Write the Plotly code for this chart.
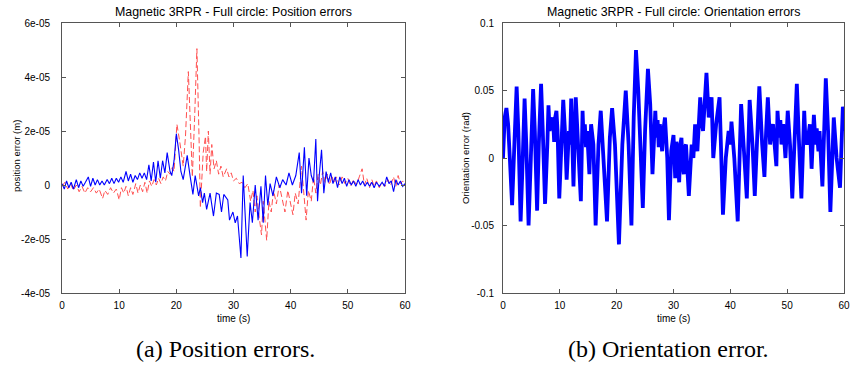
import numpy as np
import plotly.graph_objects as go

# ---------------- data (position errors in units of 1e-5 m) ----------------
blue_t = [0, 0.4, 0.8, 1.2, 1.6, 2.0, 2.5, 2.9, 3.3, 3.7, 4.1, 4.6, 5.0, 5.4, 5.8, 6.2, 6.6, 7.0, 7.4, 7.9,
          8.3, 8.7, 9.1, 9.5, 9.9, 10.3, 10.7, 11.2, 11.6, 12.0, 12.4, 12.8, 13.2, 13.6, 14.0, 14.4, 14.8,
          15.2, 15.6, 16.0, 16.4, 16.8, 17.2, 17.6, 18.0, 18.4, 18.9, 19.2, 19.6, 20.0, 20.4, 20.8, 21.2,
          21.9, 22.4, 22.9, 23.3, 23.9, 24.2, 24.6, 24.9, 25.3, 25.9, 26.5, 27.0, 27.5, 27.9, 28.3, 29.0,
          29.3, 29.9, 30.3, 30.7, 31.3, 31.7, 32.1, 32.4, 32.9, 33.3, 33.8, 34.3, 34.8, 35.2, 35.6, 36.0,
          36.4, 36.9, 37.5, 38.1, 38.6, 39.2, 39.7, 40.3, 40.9, 41.5, 41.9, 42.4, 42.8, 43.2, 43.6, 44.0,
          44.4, 44.7, 45.0, 45.4, 45.8, 46.2, 46.6, 47.0, 47.4, 47.8, 48.2, 48.6, 49.0, 49.4, 49.8, 50.2,
          50.6, 51.0, 51.4, 51.8, 52.2, 52.6, 53.0, 53.4, 53.8, 54.2, 54.6, 55.0, 55.5, 56.0, 56.4, 56.8,
          57.2, 57.6, 58.0, 58.4, 58.8, 59.2, 59.6, 60.0]
blue_v = [0.05, -0.15, 0.15, -0.1, 0.1, -0.15, 0.2, -0.1, 0.15, -0.05, 0.1, 0.3, -0.05, 0.25, 0.0, 0.2, 0.0,
          0.15, 0.0, 0.2, 0.05, 0.25, 0.05, 0.25, 0.1, 0.3, 0.1, 0.5, 0.15, 0.4, 0.1, 0.35, 0.2, 0.45, 0.25,
          0.45, 0.2, 0.75, 0.15, 0.85, 0.1, 0.9, 0.25, 0.9, 0.45, 1.2, 0.5, 0.35, 0.9, 1.9, 1.3, 0.5, 0.2,
          1.1, 0.35, -0.35, 0.35, -0.4, -0.1, -0.65, -0.3, -0.9, -0.3, -1.15, -0.3, -0.35, -1.0, -0.35,
          -0.55, -1.3, -1.0, -1.4, -1.15, -2.7, 0.35, -1.6, -2.65, -0.65, -1.4, 0.0, -1.3, -0.05, -1.4,
          0.35, -0.75, 0.05, -0.4, 0.3, -0.1, 0.2, 0.0, 0.45, 0.0, 0.35, 1.2, -0.3, 1.4, -0.4, 1.0, 0.35,
          0.1, 1.7, -0.6, 0.35, 1.3, -0.3, 0.5, 0.1, 0.45, 0.05, 0.3, -0.1, 0.3, 0.05, 0.25, -0.05, 0.2,
          0.0, 0.15, -0.05, 0.2, 0.0, 0.15, -0.05, 0.1, -0.05, 0.1, -0.1, 0.1, -0.05, 0.1, -0.05, 0.3,
          0.05, 0.15, -0.25, 0.2, 0.0, 0.15, -0.05, 0.05]

red_t = [0, 0.5, 1.0, 1.5, 2.0, 2.5, 3.0, 3.5, 4.0, 4.5, 5.0, 5.5, 6.0, 6.5, 7.1, 7.5, 8.0, 8.5, 9.0, 9.5,
         10.0, 10.4, 10.8, 11.2, 11.6, 12.0, 12.4, 12.9, 13.3, 13.7, 14.1, 14.5, 14.9, 15.3, 15.7, 16.1,
         16.5, 16.9, 17.3, 17.7, 18.1, 18.5, 18.9, 19.3, 19.6, 20.1, 20.6, 21.2, 21.6, 22.1, 22.5, 22.8,
         23.2, 23.6, 24.0, 24.2, 24.7, 25.1, 25.3, 25.6, 25.9, 26.2, 26.6, 27.0, 27.4, 27.8, 28.2, 28.8,
         29.2, 29.6, 30.0, 30.5, 31.0, 31.5, 32.0, 32.5, 33.0, 33.4, 33.8, 34.1, 34.5, 34.9, 35.2, 35.8,
         36.2, 36.6, 37.0, 37.5, 38.0, 38.5, 39.0, 39.5, 40.0, 40.4, 40.8, 41.3, 41.9, 42.3, 42.7, 43.1,
         43.6, 44.0, 44.4, 44.8, 45.2, 45.6, 46.0, 46.4, 46.8, 47.2, 47.6, 48.0, 48.5, 49.0, 49.5, 50.0,
         50.5, 51.0, 51.5, 52.0, 52.5, 52.9, 53.3, 53.8, 54.2, 54.6, 55.0, 55.5, 56.0, 56.5, 57.0, 57.5,
         58.0, 58.4, 58.8, 59.2, 59.6, 60.0]
red_v = [-0.05, 0.1, -0.15, 0.05, -0.2, 0.0, -0.25, -0.05, -0.3, -0.1, -0.25, -0.1, -0.3, -0.15, -0.5,
         -0.2, -0.35, -0.1, -0.3, -0.15, -0.55, -0.1, -0.3, -0.05, -0.4, -0.1, -0.35, 0.05, -0.3, 0.0,
         -0.25, 0.1, -0.3, 0.15, -0.05, 0.2, 0.0, 0.25, 0.05, 0.3, 0.15, 0.5, 0.4, 0.65, 0.5, 2.25, 1.6,
         0.7, 1.8, 4.2, 2.0, 0.3, 2.5, 5.05, 1.5, -0.85, 1.2, 1.8, 0.5, 2.0, 0.4, 1.5, 0.6, 0.9, 0.4, 0.7,
         0.3, 0.6, 0.3, 0.45, 0.15, 0.25, 0.05, 0.1, -0.1, 0.05, -0.6, -0.2, -1.0, -0.4, -1.2, -1.85, -0.6,
         -2.05, -0.6, -1.0, -0.2, -0.7, 0.0, -0.5, -1.0, -0.2, -0.7, -1.1, -0.3, -0.7, 0.7, -0.4, -1.3,
         -0.2, -0.6, 0.3, -0.3, 0.4, 0.0, 0.5, 0.1, 0.4, 0.0, 0.35, 0.05, 0.3, 0.0, 0.3, 0.05, 0.25, -0.05,
         0.2, 0.0, 0.3, 0.6, 0.0, 0.25, -0.1, 0.2, -0.05, 0.15, -0.1, 0.1, -0.05, 0.2, 0.0, 0.3, -0.05,
         0.35, 0.05, 0.15, 0.0]

# ---------------- data (orientation error, rad) ----------------
ori_t = [0.0, 0.3, 0.6, 0.9, 1.2, 1.6, 2.0, 2.4, 2.7, 3.1, 3.4, 3.8, 4.1, 4.5, 4.9, 5.3, 5.6, 6.0, 6.3, 6.7,
         7.0, 7.4, 7.8, 8.0, 8.2, 8.4, 8.5, 8.8, 9.0, 9.1, 9.4, 9.6, 9.9, 10.2, 10.6, 10.9, 11.2, 11.6,
         11.8, 12.0, 12.2, 12.4, 12.8, 13.2, 13.7, 14.0, 14.2, 14.4, 14.6, 14.8, 15.2, 15.5, 15.9, 16.3,
         16.8, 17.2, 17.6, 18.3, 18.8, 19.2, 19.7, 20.4, 21.0, 21.6, 22.1, 22.6, 23.0, 23.4, 23.8, 24.2,
         24.6, 25.0, 25.5, 25.9, 26.3, 26.8, 27.0, 27.2, 27.4, 27.6, 28.0, 28.2, 28.5, 28.9, 29.2, 29.6,
         30.0, 30.3, 30.5, 30.7, 31.0, 31.2, 31.4, 31.6, 31.8, 32.0, 32.2, 32.7, 33.2, 33.5, 33.8, 34.2,
         34.7, 35.0, 35.2, 35.8, 36.2, 36.4, 36.7, 37.0, 37.5, 38.1, 38.7, 39.2, 39.5, 39.7, 40.0, 40.2,
         40.7, 41.3, 41.9, 42.4, 42.9, 43.4, 43.9, 44.3, 45.1, 45.6, 46.0, 46.3, 46.6, 47.0, 47.2, 47.5,
         48.1, 48.3, 48.6, 48.8, 49.0, 49.3, 49.7, 50.1, 50.5, 50.9, 51.3, 51.7, 52.1, 52.5, 53.0, 53.2,
         53.5, 54.0, 54.3, 54.7, 55.0, 55.2, 55.5, 55.7, 56.2, 56.8, 57.2, 57.6, 58.2, 58.5, 58.7, 59.3,
         59.8, 60.0]
ori_v = [0.0, 0.03, 0.037, 0.025, 0.0, -0.035, 0.01, 0.053, 0.02, -0.047, -0.01, 0.044, 0.01, -0.05, 0.0,
         0.051, 0.02, -0.039, 0.01, 0.055, 0.02, -0.034, 0.01, 0.039, 0.02, 0.03, 0.025, 0.03, 0.012,
         0.028, 0.035, 0.02, -0.03, 0.01, 0.043, 0.02, -0.016, 0.02, 0.01, 0.044, -0.01, -0.021, 0.045,
         0.015, -0.032, 0.035, 0.012, 0.025, 0.008, 0.02, -0.012, 0.025, 0.01, -0.05, 0.01, 0.035, 0.005,
         -0.047, 0.015, 0.037, 0.01, -0.064, 0.01, 0.05, 0.01, -0.05, 0.03, 0.08, 0.05, 0.01, -0.037, 0.02,
         0.066, 0.04, -0.012, 0.035, 0.015, 0.028, 0.008, 0.025, 0.005, 0.02, 0.03, 0.0, -0.046, 0.005,
         0.017, -0.015, 0.012, 0.005, -0.018, 0.01, 0.015, -0.005, -0.012, 0.008, 0.01, -0.028, 0.01, 0.0,
         0.025, 0.005, 0.045, 0.025, 0.02, 0.063, 0.03, 0.038, 0.045, 0.0, 0.025, 0.045, -0.042, 0.0,
         0.015, 0.02, 0.01, 0.027, 0.0, -0.047, 0.04, 0.01, -0.03, 0.043, 0.01, -0.028, 0.053, 0.01,
         -0.014, 0.02, 0.045, 0.01, 0.02, 0.025, -0.006, 0.035, 0.015, 0.028, 0.01, 0.025, 0.0, 0.035,
         0.01, -0.03, 0.02, 0.055, 0.01, -0.03, 0.035, 0.015, 0.01, 0.025, -0.008, 0.032, 0.01, 0.022,
         0.005, 0.02, -0.021, 0.059, 0.02, -0.04, 0.03, 0.01, 0.0, -0.022, 0.038, 0.02]

pos_ticks = [-4e-05, -2e-05, 0, 2e-05, 4e-05, 6e-05]
pos_ticktext = ["-4e-05", "-2e-05", "0", "2e-05", "4e-05", "6e-05"]
ori_ticks = [-0.1, -0.05, 0, 0.05, 0.1]
ori_ticktext = ["-0.1", "-0.05", "0", "0.05", "0.1"]
time_ticks = [0, 10, 20, 30, 40, 50, 60]

titles = ["Magnetic 3RPR - Full circle: Position errors",
          "Magnetic 3RPR - Full circle: Orientation errors"]
ylabels = ["position error (m)", "Orientation error (rad)"]
xlabel = "time (s)"
captions = ["(a) Position errors.", "(b) Orientation error."]

# ---------------- figure ----------------
W, H = 851, 365
def px(x): return x / W
def py(y): return 1 - y / H

L1, R1 = 62, 405
L2, R2 = 503, 844
TOP, BOT = 23, 293

fig = go.Figure()
scale = 1e-5
fig.add_trace(go.Scatter(x=red_t, y=np.array(red_v) * scale, mode="lines",
                         line=dict(color="rgb(255,80,80)", width=1, dash="6px,3px"),
                         xaxis="x", yaxis="y", showlegend=False))
fig.add_trace(go.Scatter(x=blue_t, y=np.array(blue_v) * scale, mode="lines",
                         line=dict(color="rgb(0,0,255)", width=1.1),
                         xaxis="x", yaxis="y", showlegend=False))
fig.add_trace(go.Scatter(x=ori_t, y=ori_v, mode="lines",
                         line=dict(color="rgb(0,0,255)", width=3.8),
                         xaxis="x2", yaxis="y2", showlegend=False))

tickfont = dict(family="Liberation Sans, Arial, sans-serif", size=10, color="black")
axis_common = dict(showline=True, linecolor="#555555", linewidth=1, mirror="allticks",
                   ticks="inside", ticklen=4, tickcolor="#555555", showgrid=False,
                   zeroline=False, tickfont=tickfont, automargin=False,
                   ticklabeloverflow="allow")

fig.update_layout(
    width=W, height=H, autosize=False, margin=dict(l=0, r=0, t=0, b=0, pad=0, autoexpand=False),
    paper_bgcolor="white", plot_bgcolor="white",
    xaxis=dict(domain=[px(L1), px(R1)], range=[0, 60], tickvals=time_ticks, anchor="y",
               ticklabelstandoff=3, **axis_common),
    yaxis=dict(domain=[py(BOT), py(TOP)], range=[-4e-05, 6e-05], tickvals=pos_ticks,
               ticktext=pos_ticktext, anchor="x", ticklabelstandoff=9, **axis_common),
    xaxis2=dict(domain=[px(L2), px(R2)], range=[0, 60], tickvals=time_ticks, anchor="y2",
                ticklabelstandoff=3, **axis_common),
    yaxis2=dict(domain=[py(BOT), py(TOP)], range=[-0.1, 0.1], tickvals=ori_ticks,
                ticktext=ori_ticktext, anchor="x2", ticklabelstandoff=6, **axis_common),
)

sans = "Liberation Sans, Arial, sans-serif"
ann = []
for i, (l, r) in enumerate([(L1, R1), (L2, R2)]):
    cx = px((l + r) / 2)
    ann.append(dict(x=cx, y=py(12), xref="paper", yref="paper", text=titles[i], showarrow=False,
                    font=dict(family=sans, size=12.4, color="black"), xanchor="center", yanchor="middle"))
    ann.append(dict(x=cx, y=py(318), xref="paper", yref="paper", text=xlabel, showarrow=False,
                    font=dict(family=sans, size=10, color="black"), xanchor="center", yanchor="middle"))
ann.append(dict(x=px(16), y=py(156), xref="paper", yref="paper", text=ylabels[0], showarrow=False,
                textangle=-90, font=dict(family=sans, size=9.5, color="black"),
                xanchor="center", yanchor="middle"))
ann.append(dict(x=px(465), y=py(158), xref="paper", yref="paper", text=ylabels[1], showarrow=False,
                textangle=-90, font=dict(family=sans, size=9.5, color="black"),
                xanchor="center", yanchor="middle"))
serif = "Liberation Serif, Times New Roman, serif"
ann.append(dict(x=px(226), y=py(349), xref="paper", yref="paper", text=captions[0], showarrow=False,
                font=dict(family=serif, size=24, color="black"), xanchor="center", yanchor="middle"))
ann.append(dict(x=px(668), y=py(349), xref="paper", yref="paper", text=captions[1], showarrow=False,
                font=dict(family=serif, size=24, color="black"), xanchor="center", yanchor="middle"))
fig.update_layout(annotations=ann)

fig.write_html("out.html", config={"displayModeBar": False},
               post_script="document.documentElement.style.margin='0';document.body.style.margin='0';document.body.style.padding='0';document.body.style.overflow='hidden';")
